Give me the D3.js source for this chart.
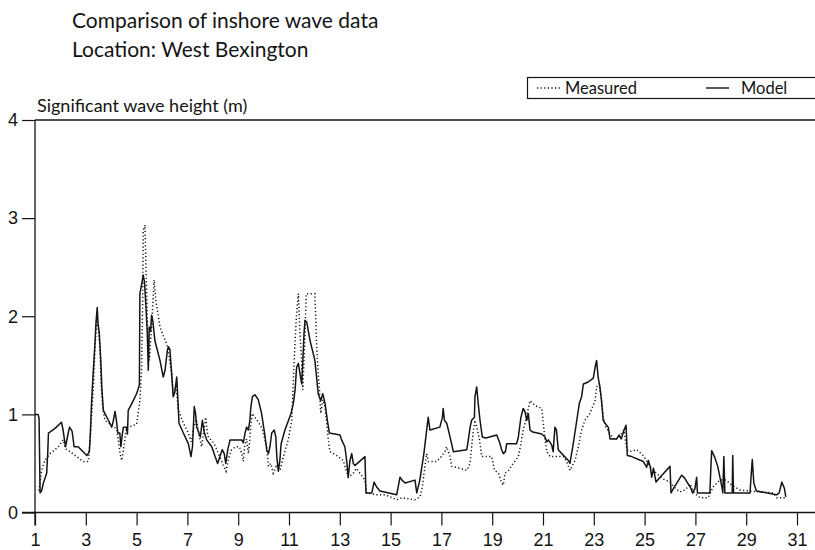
<!DOCTYPE html>
<html>
<head>
<meta charset="utf-8">
<script src="https://cdn.jsdelivr.net/npm/d3@7"></script>
<style>
  html, body { margin: 0; padding: 0; background: #fff; }
  svg { display: block; font-family: Lato, "Open Sans", "DejaVu Sans", sans-serif; }
</style>
</head>
<body>
<svg id="chart" width="815" height="550"></svg>
<script>
// Significant wave height (m) against day of month, [day, Hs]
const measured = [
  [1.15,0.22],[1.20,0.30],[1.26,0.43],[1.39,0.53],[1.59,0.60],[1.92,0.67],[2.11,0.74],[2.20,0.65],
  [2.38,0.62],[2.64,0.57],[2.90,0.52],[3.10,0.52],[3.17,0.74],[3.23,1.00],[3.30,1.28],[3.36,1.67],
  [3.43,1.96],[3.49,1.89],[3.56,1.67],[3.60,1.33],[3.66,1.09],[3.75,0.94],[3.95,0.90],[4.10,0.88],
  [4.22,0.84],[4.30,0.70],[4.35,0.60],[4.41,0.53],[4.46,0.60],[4.53,0.73],[4.60,0.87],[4.80,0.88],
  [5.00,0.90],[5.13,1.14],[5.20,1.48],[5.24,2.16],[5.26,2.87],[5.33,2.93],[5.37,2.50],[5.42,1.98],
  [5.50,1.55],[5.59,1.89],[5.69,2.37],[5.76,2.16],[5.92,1.89],[6.05,1.80],[6.18,1.72],[6.25,1.65],
  [6.38,1.40],[6.45,1.20],[6.55,1.30],[6.64,1.05],[6.84,0.91],[7.04,0.81],[7.15,0.72],[7.25,0.86],
  [7.35,0.95],[7.45,0.80],[7.56,0.67],[7.72,0.97],[7.80,0.78],[8.06,0.70],[8.22,0.60],[8.35,0.52],
  [8.52,0.42],[8.62,0.55],[8.74,0.64],[8.90,0.67],[9.05,0.67],[9.14,0.60],[9.20,0.52],[9.25,0.67],
  [9.33,0.75],[9.40,0.60],[9.45,0.72],[9.50,0.91],[9.56,1.01],[9.66,0.97],[9.80,0.92],[9.95,0.85],
  [10.12,0.67],[10.19,0.47],[10.28,0.50],[10.38,0.40],[10.50,0.47],[10.65,0.43],[10.78,0.57],[10.97,0.74],
  [11.11,0.94],[11.17,1.35],[11.24,1.75],[11.30,2.03],[11.37,2.23],[11.42,1.90],[11.50,1.52],[11.54,1.25],
  [11.60,1.60],[11.68,2.23],[11.96,2.23],[12.02,2.23],[12.09,1.69],[12.15,1.42],[12.20,1.25],[12.25,1.01],
  [12.33,1.15],[12.42,1.08],[12.55,0.74],[12.61,0.62],[12.88,0.58],[13.14,0.53],[13.25,0.43],[13.34,0.36],
  [13.53,0.40],[13.65,0.45],[13.99,0.33],[14.06,0.20],[14.45,0.18],[14.80,0.18],[15.24,0.13],[15.45,0.15],
  [15.70,0.14],[15.96,0.13],[16.16,0.16],[16.25,0.26],[16.35,0.47],[16.42,0.60],[16.49,0.52],[16.81,0.52],
  [17.00,0.57],[17.14,0.62],[17.20,0.67],[17.34,0.57],[17.40,0.47],[17.60,0.46],[18.00,0.43],[18.13,0.50],
  [18.19,0.67],[18.26,0.84],[18.32,0.94],[18.42,0.84],[18.50,0.74],[18.59,0.57],[18.98,0.57],[19.09,0.43],
  [19.25,0.40],[19.37,0.30],[19.44,0.28],[19.50,0.40],[19.65,0.43],[19.83,0.50],[20.03,0.57],[20.13,0.70],
  [20.22,0.84],[20.29,0.91],[20.42,1.06],[20.49,1.14],[20.69,1.09],[20.95,1.06],[21.00,0.94],[21.08,0.74],
  [21.15,0.62],[21.28,0.57],[21.54,0.57],[21.80,0.57],[21.93,0.52],[22.06,0.43],[22.26,0.53],[22.39,0.67],
  [22.52,0.84],[22.65,0.94],[22.85,1.01],[23.05,1.14],[23.11,1.28],[23.22,1.31],[23.32,1.11],[23.37,0.97],
  [23.48,0.87],[23.64,0.80],[23.83,0.74],[24.00,0.77],[24.19,0.84],[24.30,0.64],[24.43,0.62],[24.69,0.64],
  [24.95,0.58],[25.21,0.47],[25.47,0.40],[25.67,0.35],[26.00,0.31],[26.20,0.25],[26.39,0.21],[26.60,0.23],
  [26.79,0.29],[26.95,0.20],[27.18,0.15],[27.50,0.15],[27.70,0.26],[27.96,0.33],[28.20,0.33],[28.43,0.28],
  [28.75,0.23],[29.10,0.22],[29.50,0.21],[30.07,0.20],[30.20,0.15],[30.56,0.15]
];

const model = [
  [1.00,1.00],[1.12,1.00],[1.16,0.96],[1.20,0.20],[1.26,0.22],[1.33,0.30],[1.46,0.40],[1.50,0.60],
  [1.53,0.81],[1.80,0.86],[2.04,0.92],[2.10,0.85],[2.20,0.67],[2.30,0.80],[2.36,0.87],[2.46,0.83],
  [2.54,0.67],[2.70,0.67],[3.04,0.58],[3.14,0.62],[3.18,0.81],[3.23,1.14],[3.29,1.42],[3.36,1.72],
  [3.40,1.93],[3.45,2.09],[3.48,1.93],[3.53,1.83],[3.59,1.55],[3.63,1.28],[3.69,1.04],[3.89,0.94],
  [4.02,0.87],[4.08,0.93],[4.15,1.03],[4.20,0.95],[4.26,0.81],[4.34,0.81],[4.38,0.67],[4.44,0.80],
  [4.48,0.87],[4.60,0.87],[4.64,0.80],[4.67,1.04],[4.81,1.11],[5.00,1.21],[5.11,1.30],[5.13,2.23],
  [5.20,2.33],[5.26,2.42],[5.31,2.35],[5.37,2.09],[5.42,1.83],[5.46,1.45],[5.50,1.89],[5.55,1.85],
  [5.59,2.01],[5.64,1.95],[5.72,1.75],[5.92,1.55],[6.05,1.38],[6.12,1.45],[6.21,1.65],[6.25,1.69],
  [6.31,1.66],[6.38,1.42],[6.44,1.18],[6.50,1.22],[6.58,1.38],[6.62,1.18],[6.67,0.91],[6.84,0.81],
  [7.04,0.70],[7.14,0.57],[7.20,0.67],[7.27,1.08],[7.32,1.01],[7.37,0.87],[7.44,0.82],[7.51,0.77],
  [7.59,0.94],[7.67,0.81],[7.76,0.74],[7.96,0.67],[8.09,0.57],[8.19,0.50],[8.28,0.57],[8.37,0.64],
  [8.45,0.60],[8.51,0.50],[8.59,0.64],[8.68,0.74],[9.14,0.74],[9.20,0.71],[9.27,0.81],[9.33,0.87],
  [9.40,0.84],[9.46,0.94],[9.50,1.08],[9.56,1.18],[9.66,1.20],[9.79,1.15],[9.92,1.01],[10.06,0.77],
  [10.12,0.64],[10.19,0.60],[10.25,0.67],[10.32,0.81],[10.42,0.84],[10.48,0.77],[10.52,0.57],[10.58,0.42],
  [10.64,0.53],[10.69,0.70],[10.84,0.84],[11.08,1.01],[11.17,1.11],[11.24,1.25],[11.30,1.48],[11.37,1.52],
  [11.43,1.42],[11.50,1.31],[11.54,1.52],[11.59,1.82],[11.63,1.96],[11.70,1.94],[11.83,1.75],[12.02,1.55],
  [12.15,1.21],[12.25,1.14],[12.33,1.21],[12.42,1.11],[12.51,0.94],[12.59,0.81],[13.01,0.79],[13.07,0.74],
  [13.20,0.67],[13.27,0.53],[13.33,0.36],[13.40,0.53],[13.47,0.60],[13.53,0.50],[13.60,0.48],[13.99,0.57],
  [14.03,0.20],[14.26,0.20],[14.35,0.31],[14.45,0.26],[14.58,0.22],[15.24,0.18],[15.37,0.36],[15.45,0.33],
  [15.57,0.30],[15.96,0.33],[16.03,0.20],[16.15,0.33],[16.31,0.60],[16.42,0.84],[16.48,0.97],[16.55,0.84],
  [16.94,0.87],[17.04,0.97],[17.07,1.06],[17.12,0.94],[17.21,0.91],[17.34,0.77],[17.47,0.62],[18.00,0.64],
  [18.06,0.74],[18.13,0.87],[18.19,0.94],[18.30,0.97],[18.32,1.18],[18.39,1.28],[18.45,1.11],[18.52,0.94],
  [18.61,0.77],[18.75,0.76],[19.18,0.79],[19.31,0.70],[19.37,0.64],[19.44,0.60],[19.52,0.62],[19.57,0.70],
  [19.96,0.70],[20.03,0.77],[20.13,0.97],[20.22,1.06],[20.29,1.03],[20.36,0.94],[20.42,1.01],[20.49,0.84],
  [20.60,0.82],[20.95,0.80],[21.08,0.77],[21.15,0.72],[21.21,0.74],[21.34,0.69],[21.40,0.62],[21.47,0.87],
  [21.53,0.84],[21.60,0.64],[21.74,0.60],[22.00,0.53],[22.06,0.50],[22.19,0.70],[22.33,0.94],[22.43,1.11],
  [22.52,1.18],[22.59,1.31],[22.78,1.33],[22.98,1.37],[23.05,1.48],[23.11,1.55],[23.17,1.38],[23.24,1.28],
  [23.30,1.15],[23.37,0.94],[23.44,0.91],[23.57,0.87],[23.64,0.75],[23.90,0.75],[24.00,0.79],[24.08,0.75],
  [24.19,0.84],[24.27,0.89],[24.32,0.58],[24.49,0.57],[24.95,0.52],[25.08,0.46],[25.15,0.53],[25.22,0.47],
  [25.28,0.36],[25.35,0.45],[25.45,0.31],[25.61,0.36],[26.00,0.47],[26.04,0.20],[26.15,0.25],[26.29,0.31],
  [26.46,0.38],[26.58,0.35],[26.72,0.29],[26.80,0.26],[26.89,0.20],[26.98,0.24],[27.05,0.36],[27.08,0.20],
  [27.57,0.20],[27.60,0.40],[27.64,0.63],[27.75,0.57],[27.88,0.47],[28.05,0.25],[28.08,0.20],[28.12,0.57],
  [28.16,0.20],[28.45,0.20],[28.47,0.58],[28.50,0.20],[29.15,0.20],[29.20,0.40],[29.24,0.54],[29.30,0.30],
  [29.40,0.22],[30.20,0.18],[30.30,0.20],[30.40,0.31],[30.50,0.25],[30.56,0.16]
];

const dayTicks = [1,3,5,7,9,11,13,15,17,19,21,23,25,27,29,31];
const heightTicks = [0,1,2,3,4];
const titleLines = ["Comparison of inshore wave data", "Location: West Bexington"];
const yAxisTitle = "Significant wave height (m)";
const legendItems = [
  { label: "Measured", dash: "1.2 2.4" },
  { label: "Model", dash: null }
];

const svg = d3.select("#chart");
const ink = "#141414";

const x = d3.scaleLinear().domain([1, 31]).range([35, 797]);
const y = d3.scaleLinear().domain([0, 4]).range([512.5, 120]);

// Titles
svg.append("g").selectAll("text")
  .data(titleLines).join("text")
  .attr("x", 72).attr("y", (d, i) => 28 + i * 29)
  .attr("font-size", 21).attr("fill", ink)
  .text(d => d);

svg.append("text")
  .attr("x", 37).attr("y", 112)
  .attr("font-size", 18).attr("fill", ink)
  .text(yAxisTitle);

// Frame: top line, baseline and left axis running to the right edge
const frame = svg.append("g").attr("stroke", ink).attr("fill", "none");
frame.append("line").attr("x1", x(1)).attr("x2", 815).attr("y1", y(4)).attr("y2", y(4)).attr("stroke-width", 1.3);

// Y axis: ticks pointing left, labels at the far left
const yAxis = d3.axisLeft(y).tickValues(heightTicks).tickSize(13).tickPadding(4).tickFormat(d3.format("d"));
const gy = svg.append("g").attr("transform", `translate(${x(1)},0)`).call(yAxis);
gy.select(".domain").remove();
gy.selectAll(".tick line").attr("stroke", ink).attr("stroke-width", 1.2);
gy.selectAll(".tick text").attr("font-size", 18).attr("fill", ink).attr("font-family", null);

// X axis: ticks pointing down from the baseline
const xAxis = d3.axisBottom(x).tickValues(dayTicks).tickSize(13).tickPadding(8).tickFormat(d3.format("d"));
const gx = svg.append("g").attr("transform", `translate(0,${y(0)})`).call(xAxis);
gx.select(".domain").remove();
gx.selectAll(".tick line").attr("stroke", ink).attr("stroke-width", 1.2);
gx.selectAll(".tick text").attr("font-size", 18).attr("fill", ink).attr("font-family", null);

frame.append("line").attr("x1", x(1) - 13).attr("x2", 815).attr("y1", y(0)).attr("y2", y(0)).attr("stroke-width", 1.7);
frame.append("line").attr("x1", x(1)).attr("x2", x(1)).attr("y1", y(4)).attr("y2", y(0) + 13).attr("stroke-width", 1.3);

// Series
const line = d3.line().x(d => x(d[0])).y(d => y(d[1]));

svg.append("path").datum(measured)
  .attr("d", line).attr("fill", "none")
  .attr("stroke", ink).attr("stroke-width", 1.5)
  .attr("stroke-dasharray", "1.2 2.4");

svg.append("path").datum(model)
  .attr("d", line).attr("fill", "none")
  .attr("stroke", ink).attr("stroke-width", 1.5)
  .attr("stroke-linejoin", "round");

// Legend
const legend = svg.append("g");
legend.append("rect")
  .attr("x", 527.5).attr("y", 77.5).attr("width", 300).attr("height", 21)
  .attr("fill", "none").attr("stroke", ink).attr("stroke-width", 1.2);
const legendPos = [{ sx: 537, tx: 565 }, { sx: 706, tx: 741 }];
legendItems.forEach((item, i) => {
  const p = legendPos[i];
  legend.append("line")
    .attr("x1", p.sx).attr("x2", p.sx + 23).attr("y1", 88).attr("y2", 88)
    .attr("stroke", ink).attr("stroke-width", 1.4)
    .attr("stroke-dasharray", item.dash);
  legend.append("text")
    .attr("x", p.tx).attr("y", 94)
    .attr("font-size", 16.5).attr("fill", ink)
    .text(item.label);
});
</script>
</body>
</html>
